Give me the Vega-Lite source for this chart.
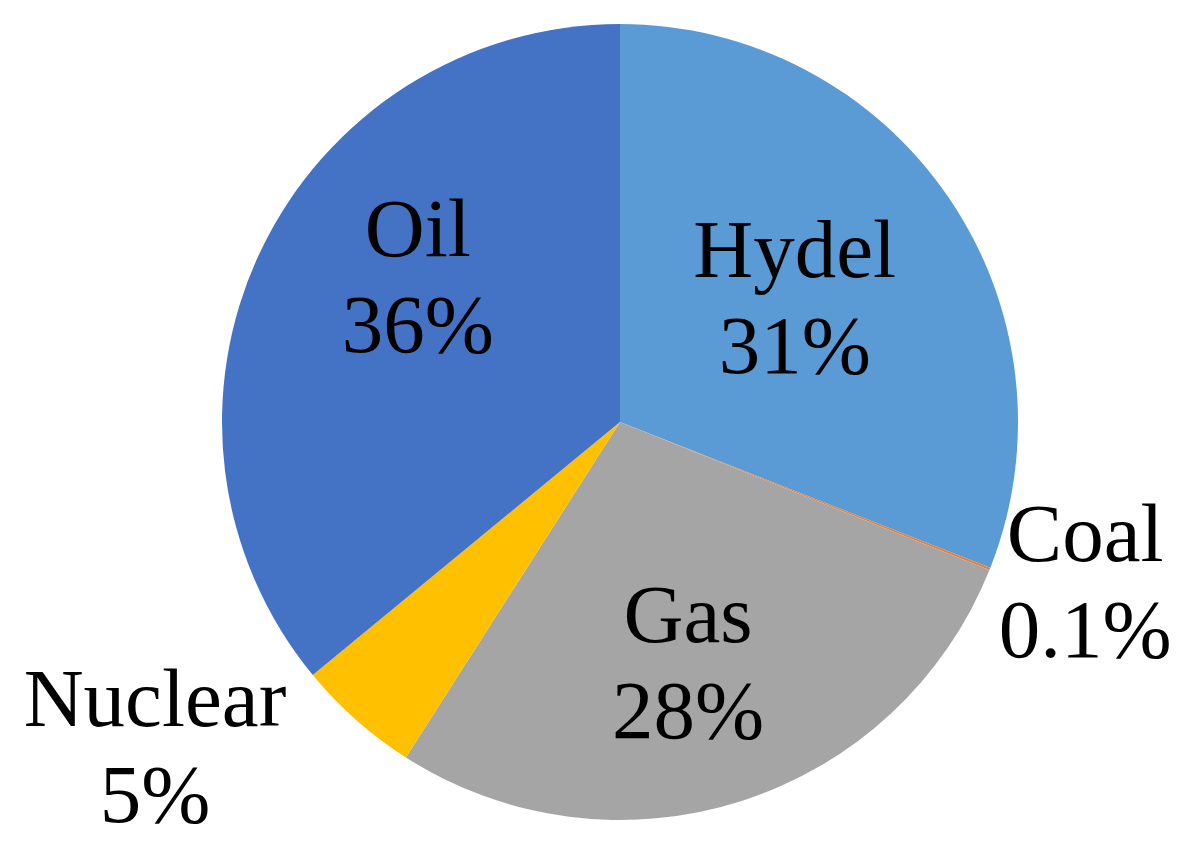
{
  "$schema": "https://vega.github.io/schema/vega-lite/v6.json",
  "autosize": {"type": "none"},
  "padding": {"left": 42, "top": 0, "right": 0, "bottom": 0},
  "width": 1156,
  "height": 844,
  "background": "white",
  "view": {"stroke": null},
  "data": {
    "values": [
      {"Source": "Hydel", "value": 31, "order": 1, "label": "Hydel\n31%"},
      {"Source": "Coal", "value": 0.1, "order": 2, "label": "Coal\n0.1%"},
      {"Source": "Gas", "value": 28, "order": 3, "label": "Gas\n28%"},
      {"Source": "Nuclear", "value": 5, "order": 4, "label": "Nuclear\n5%"},
      {"Source": "Oil", "value": 36, "order": 5, "label": "Oil\n36%"}
    ]
  },
  "encoding": {
    "theta": {"field": "value", "type": "quantitative", "stack": true},
    "order": {"field": "order", "type": "quantitative"}
  },
  "layer": [
    {
      "mark": {"type": "arc", "outerRadius": 398, "stroke": null},
      "encoding": {
        "color": {
          "field": "Source",
          "type": "nominal",
          "legend": null,
          "scale": {
            "domain": ["Hydel", "Coal", "Gas", "Nuclear", "Oil"],
            "range": ["#5B9BD5", "#ED7D31", "#A5A5A5", "#FFC000", "#4472C4"]
          }
        }
      }
    },
    {
      "mark": {"type": "text", "radius": 215, "font": "Liberation Serif", "fontSize": 83, "lineBreak": "\n", "lineHeight": 96, "baseline": "middle", "align": "center", "color": "black", "dx": -3, "dy": -49},
      "encoding": {"text": {"condition": {"test": "datum.Source === 'Hydel'", "field": "label"}, "value": ""}}
    },
    {
      "mark": {"type": "text", "radius": 493, "font": "Liberation Serif", "fontSize": 83, "lineBreak": "\n", "lineHeight": 96, "baseline": "middle", "align": "center", "color": "black", "dx": 7, "dy": -68},
      "encoding": {"text": {"condition": {"test": "datum.Source === 'Coal'", "field": "label"}, "value": ""}}
    },
    {
      "mark": {"type": "text", "radius": 249, "font": "Liberation Serif", "fontSize": 83, "lineBreak": "\n", "lineHeight": 96, "baseline": "middle", "align": "center", "color": "black", "dx": -8, "dy": -42},
      "encoding": {"text": {"condition": {"test": "datum.Source === 'Gas'", "field": "label"}, "value": ""}}
    },
    {
      "mark": {"type": "text", "radius": 567, "font": "Liberation Serif", "fontSize": 83, "lineBreak": "\n", "lineHeight": 96, "baseline": "middle", "align": "center", "color": "black", "dx": -89, "dy": -145},
      "encoding": {"text": {"condition": {"test": "datum.Source === 'Nuclear'", "field": "label"}, "value": ""}}
    },
    {
      "mark": {"type": "text", "radius": 249, "font": "Liberation Serif", "fontSize": 83, "lineBreak": "\n", "lineHeight": 96, "baseline": "middle", "align": "center", "color": "black", "dx": 23, "dy": -85},
      "encoding": {"text": {"condition": {"test": "datum.Source === 'Oil'", "field": "label"}, "value": ""}}
    }
  ]
}
